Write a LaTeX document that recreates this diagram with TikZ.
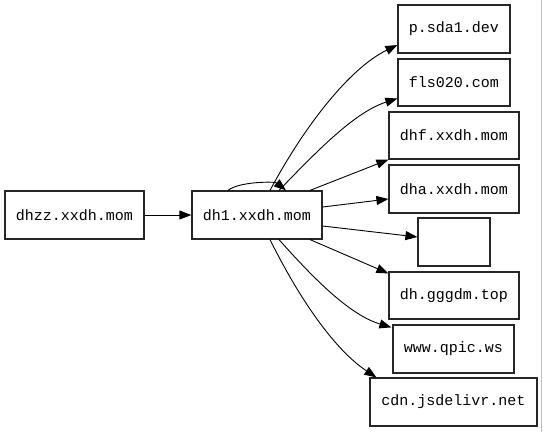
\documentclass[tikz,border=0pt]{standalone}
\usepackage{fontspec}
\setmonofont{Liberation Mono}
\usetikzlibrary{arrows.meta}
\begin{document}
\begin{tikzpicture}[x=1pt,y=-1pt,
  box/.style={draw=black!85,line width=1.2pt,fill=white,inner sep=0pt,font=\ttfamily\fontsize{15}{17}\selectfont},
  edge/.style={draw=black,line width=0.9pt,-{Triangle[length=12pt,width=9pt]}}]
\useasboundingbox (0,0) rectangle (543,432);
\fill[white] (0,0) rectangle (543,432);
\draw[black!25,line width=1pt] (541,0) -- (541,432);
\node[box,minimum width=139pt,minimum height=48pt] (a) at (74.5,215) {dhzz.xxdh.mom};
\node[box,minimum width=130pt,minimum height=48pt] (b) at (257,215) {dh1.xxdh.mom};
\node[box,minimum width=112pt,minimum height=48pt] (n1) at (454,29) {p.sda1.dev};
\node[box,minimum width=112pt,minimum height=47pt] (n2) at (454,82.5) {fls020.com};
\node[box,minimum width=130pt,minimum height=47pt] (n3) at (454,135.5) {dhf.xxdh.mom};
\node[box,minimum width=130pt,minimum height=48pt] (n4) at (454,189) {dha.xxdh.mom};
\node[box,minimum width=72pt,minimum height=48pt] (n5) at (454,242) {};
\node[box,minimum width=130pt,minimum height=47pt] (n6) at (454,295.5) {dh.gggdm.top};
\node[box,minimum width=121pt,minimum height=48pt] (n7) at (453.5,349) {www.qpic.ws};
\node[box,minimum width=167pt,minimum height=48pt] (n8) at (453.5,402) {cdn.jsdelivr.net};
\draw[edge] (a) -- (b);
\draw[edge] ([xshift=-29pt]b.north) .. controls ([xshift=-18pt,yshift=9pt]b.north) and ([xshift=18pt,yshift=9pt]b.north) .. ([xshift=29pt]b.north);
\draw[edge] ([xshift=13pt]b.north) .. controls (305,125) and (350,68) .. ([yshift=-16pt]n1.west);
\draw[edge] ([xshift=22pt]b.north) .. controls (318,150) and (355,112) .. ([yshift=-16pt]n2.west);
\draw[edge] ([xshift=53pt]b.north) -- (n3.south west);
\draw[edge] ([yshift=8pt]b.east) -- ([yshift=-10pt]n4.west);
\draw[edge] ([yshift=-11pt]b.east) -- ([yshift=5pt]n5.west);
\draw[edge] ([xshift=53pt]b.south) -- ([yshift=-2pt]n6.north west);
\draw[edge] ([xshift=22pt]b.south) .. controls (315,280) and (350,315) .. ([xshift=-1pt,yshift=-3pt]n7.north west);
\draw[edge] ([xshift=13pt]b.south) .. controls (300,300) and (335,350) .. ([xshift=7pt]n8.north west);
\end{tikzpicture}
\end{document}
